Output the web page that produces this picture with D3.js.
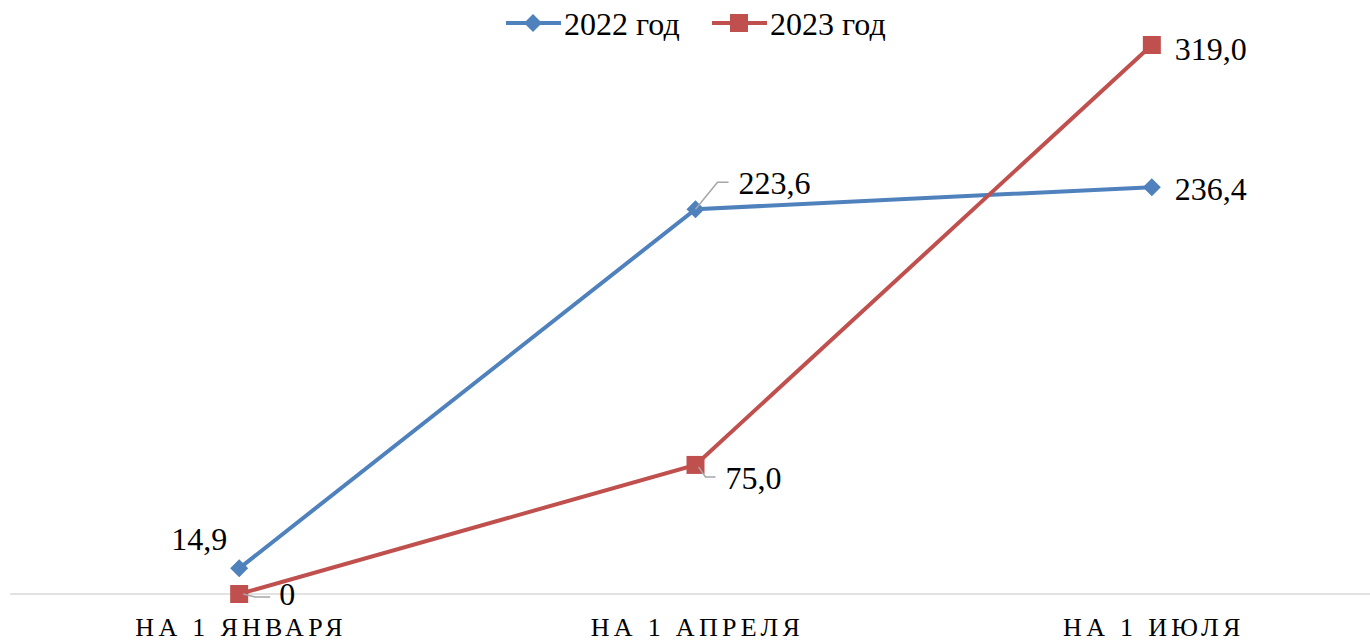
<!DOCTYPE html>
<html>
<head>
<meta charset="utf-8">
<script src="https://cdn.jsdelivr.net/npm/d3@7"></script>
<style>
  body { margin: 0; background: #fff; }
  svg { display: block; }
  text { font-family: 'Liberation Serif', 'Times New Roman', Times, serif; }
</style>
</head>
<body>
<svg id="chart" width="1370" height="642"></svg>
<script>
// categories and series values
const categories = ["НА 1 ЯНВАРЯ", "НА 1 АПРЕЛЯ", "НА 1 ИЮЛЯ"];
const values2022 = [14.9, 223.6, 236.4];
const values2023 = [0, 75.0, 319.0];
const labels2022 = ["14,9", "223,6", "236,4"];
const labels2023 = ["0", "75,0", "319,0"];
const seriesNames = ["2022 год", "2023 год"];

const svg = d3.select("#chart");
const colors = ["#4F81BD", "#C0504D"];
const fontFam = "'Liberation Serif', 'Times New Roman', Times, serif";

const x = d3.scaleBand().domain(categories).range([11, 1380]);
const y = d3.scaleLinear().domain([0, 319]).range([594, 45]);
const cx = d => x(d) + x.bandwidth() / 2;

// axis line
svg.append("line")
    .attr("x1", 10).attr("x2", 1370)
    .attr("y1", y(0)).attr("y2", y(0))
    .attr("stroke", "#d9d9d9").attr("stroke-width", 1.5);

// category labels
svg.selectAll("text.cat")
    .data(categories)
    .enter().append("text")
    .attr("class", "cat")
    .attr("x", d => cx(d) + 2)
    .attr("y", 636)
    .attr("text-anchor", "middle")
    .attr("font-family", fontFam)
    .attr("font-size", 26)
    .attr("letter-spacing", 4.3)
    .text(d => d);

const series = [
    { name: seriesNames[0], values: values2022, labels: labels2022, color: colors[0], shape: "diamond" },
    { name: seriesNames[1], values: values2023, labels: labels2023, color: colors[1], shape: "square" }
];

const line = d3.line()
    .x((d, i) => cx(categories[i]))
    .y(d => y(d));

function marker(g, shape, color) {
    if (shape === "diamond") {
        g.append("path").attr("d", "M0,-9 L9,0 L0,9 L-9,0 Z").attr("fill", color);
    } else {
        g.append("rect").attr("x", -9).attr("y", -9).attr("width", 18).attr("height", 18).attr("fill", color);
    }
}

series.forEach(s => {
    svg.append("path")
        .datum(s.values)
        .attr("d", line)
        .attr("fill", "none")
        .attr("stroke", s.color)
        .attr("stroke-width", 4);

    s.values.forEach((v, i) => {
        let g = svg.append("g").attr("transform", `translate(${cx(categories[i])},${y(v)})`);
        marker(g, s.shape, s.color);
    });
});

// leader lines for some labels (offsets relative to point)
const leaders = [
    { s: 0, i: 1, pts: [[0, 0], [22, -27], [33, -27]] },
    { s: 1, i: 1, pts: [[3, 2], [10, 12], [20, 12]] },
    { s: 1, i: 0, pts: [[4, 0], [16, 3], [31, 3]] }
];
leaders.forEach(l => {
    const px = cx(categories[l.i]), py = y(series[l.s].values[l.i]);
    svg.append("path")
        .attr("d", d3.line()(l.pts.map(p => [px + p[0], py + p[1]])))
        .attr("fill", "none")
        .attr("stroke", "#a6a6a6")
        .attr("stroke-width", 1.5);
});

// data labels, offset from point
const labelOffsets = [
    [[-68, -18], [43, -15], [23, 13]],
    [[40, 11], [30, 24], [23, 15]]
];
series.forEach((s, si) => {
    s.values.forEach((v, i) => {
        svg.append("text")
            .attr("x", cx(categories[i]) + labelOffsets[si][i][0])
            .attr("y", y(v) + labelOffsets[si][i][1])
            .attr("font-family", fontFam)
            .attr("font-size", 32)
            .attr("fill", "#000")
            .text(s.labels[i]);
    });
});

// legend
const legendX = [506, 712];
series.forEach((s, i) => {
    const lg = svg.append("g").attr("transform", `translate(${legendX[i]},23)`);
    lg.append("line").attr("x1", 0).attr("x2", 55).attr("y1", 0).attr("y2", 0)
        .attr("stroke", s.color).attr("stroke-width", 4);
    const m = lg.append("g").attr("transform", "translate(27,0)");
    marker(m, s.shape, s.color);
    lg.append("text").attr("x", 58).attr("y", 12)
        .attr("font-family", fontFam)
        .attr("font-size", 32).text(s.name);
});
</script>
</body>
</html>
